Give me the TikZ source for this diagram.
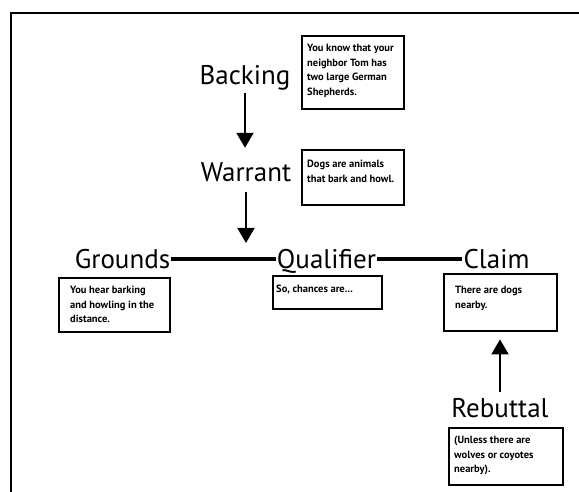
\documentclass[tikz,border=0pt]{standalone}
\usepackage{fontspec}
\setmainfont{PT Sans}
\usepackage{tikz}
\usetikzlibrary{arrows.meta,positioning,calc}
\tikzset{
  part/.style={inner sep=1pt, text height=19pt, text depth=0pt, font=\fontsize{27}{30}\selectfont},
  notebox/.style={draw, line width=2.4pt, anchor=north west, inner sep=0pt},
  note/.style={anchor=north west, inner sep=0pt, align=left, font=\bfseries\fontsize{10.5}{14.5}\selectfont},
  link/.style={line width=4pt},
  push/.style={line width=2pt, -{Triangle[width=17pt,length=15pt]}},
}

\begin{document}
\begin{tikzpicture}[x=1pt,y=-1pt]
 \useasboundingbox (0,0) rectangle (579,492);
 \draw[line width=2pt] (11,492) -- (11,13) -- (579,13);
 \node[part] (bk) at (245,75.5) {Backing};
 \node[part] (wa) at (246,172.5) {Warrant};
 \node[part] (gr) at (122.5,259) {Grounds};
 \node[part] (qu) at (326.5,259) {Qualifier};
 \node[part] (cl) at (496.5,259) {Claim};
 \node[part] (rb) at (500,407.5) {Rebuttal};
 \node[notebox, minimum width=102pt, minimum height=73pt] (bkbox) at (301,35) {};
 \node[notebox, minimum width=102pt, minimum height=55pt] (wabox) at (301,149) {};
 \node[notebox, minimum width=111pt, minimum height=54pt] (grbox) at (58,277) {};
 \node[notebox, minimum width=109pt, minimum height=33pt] (qubox) at (272,275) {};
 \node[notebox, minimum width=113pt, minimum height=57pt] (clbox) at (443,273) {};
 \node[notebox, minimum width=114pt, minimum height=57pt] (rbbox) at (448,427) {};
 \node[note] (bktxt) at ([shift={(6pt,-9pt)}]bkbox.north west) {You know that your\\neighbor Tom has\\two large German\\Shepherds.};
 \node[note] (watxt) at ([shift={(6pt,-11pt)}]wabox.north west) {Dogs are animals\\that bark and howl.};
 \node[note] (grtxt) at ([shift={(12pt,-9pt)}]grbox.north west) {You hear barking\\and howling in the\\distance.};
 \node[note] (qutxt) at ([shift={(4pt,-10pt)}]qubox.north west) {So, chances are...};
 \node[note] (cltxt) at ([shift={(12pt,-13pt)}]clbox.north west) {There are dogs\\nearby.};
 \node[note] (rbtxt) at ([shift={(6pt,-9pt)}]rbbox.north west) {(Unless there are\\wolves or coyotes\\nearby).};
 \draw[link] (gr.east) -- (qu.west);
 \draw[link] (qu.east) -- (cl.west);
 \draw[push, shorten <=7pt, shorten >=14pt] (bk.south) -- (bk.south |- wa.north);
 \draw[push, shorten <=9pt, shorten >=16pt] (wa.south) -- (wa.south |- gr.east);
 \draw[push, shorten <=5pt, shorten >=7pt] (rb.north) -- (rb.north |- clbox.south);
\end{tikzpicture}
\end{document}
